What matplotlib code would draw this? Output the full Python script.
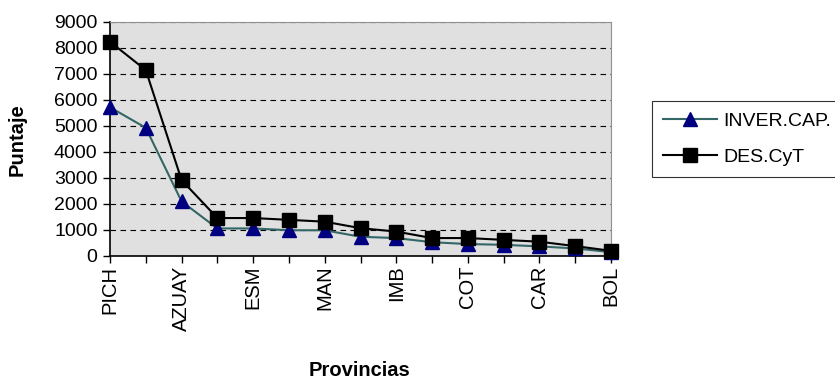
import matplotlib
matplotlib.use("Agg")
import matplotlib.pyplot as plt
import numpy as np

plt.rcParams['font.family'] = ['Liberation Sans', 'DejaVu Sans']

# provincias (solo se rotulan las pares)
provincias = ['PICH', '', 'AZUAY', '', 'ESM', '', 'MAN', '', 'IMB', '', 'COT', '', 'CAR', '', 'BOL']
inver_cap = [5720, 4930, 2100, 1060, 1060, 990, 990, 740, 690, 530, 460, 430, 370, 290, 150]
des_cyt = [8240, 7150, 2920, 1460, 1460, 1390, 1320, 1070, 940, 690, 690, 620, 550, 380, 200]
yticks = [0, 1000, 2000, 3000, 4000, 5000, 6000, 7000, 8000, 9000]

x = np.arange(len(provincias))

fig = plt.figure(figsize=(8.35, 3.79), dpi=100)
ax = fig.add_axes([110/835, 1-256/379, 501/835, 234/379])
ax.set_facecolor('#E0E0E0')

ax.plot(x, inver_cap, color='#336666', lw=1.5, marker='^', ms=10,
        mfc='#000080', mec='#000080', label='INVER.CAP.', clip_on=False, zorder=3)
ax.plot(x, des_cyt, color='black', lw=1.5, marker='s', ms=9.5,
        mfc='black', mec='black', label='DES.CyT', clip_on=False, zorder=4)

ax.set_xlim(0, len(provincias)-1)
ax.set_ylim(0, 9000)
ax.set_yticks(yticks)
ax.set_xticks(x)
ax.set_xticklabels(provincias, rotation=90, fontsize=14.5)
ax.tick_params(axis='y', labelsize=14, direction='out', length=5, width=1, pad=4)
ax.tick_params(axis='x', direction='out', length=5, width=1, pad=2)

ax.yaxis.grid(True, linestyle=(0, (5, 4)), color='black', lw=0.8)
ax.set_axisbelow(True)
for s in ['top', 'right']:
    ax.spines[s].set_color('#909090')
for s in ['left', 'bottom']:
    ax.spines[s].set_color('black')
    ax.spines[s].set_linewidth(1.2)

fig.text(17/835, 1-140/379, 'Puntaje', fontsize=14.5, fontweight='bold',
         rotation=90, ha='center', va='center')
fig.text(360/835, 1-371/379, 'Provincias', fontsize=14.5, fontweight='bold',
         ha='center', va='center')

leg = fig.legend(loc='center left', bbox_to_anchor=(652/835, 1-139/379),
                 fontsize=14, frameon=True, fancybox=False, handlelength=2.8,
                 handletextpad=0.3, borderpad=0.55, labelspacing=0.95,
                 borderaxespad=0)
leg.get_frame().set_edgecolor('black')
leg.get_frame().set_linewidth(0.8)

fig.savefig('out.png', dpi=100)
